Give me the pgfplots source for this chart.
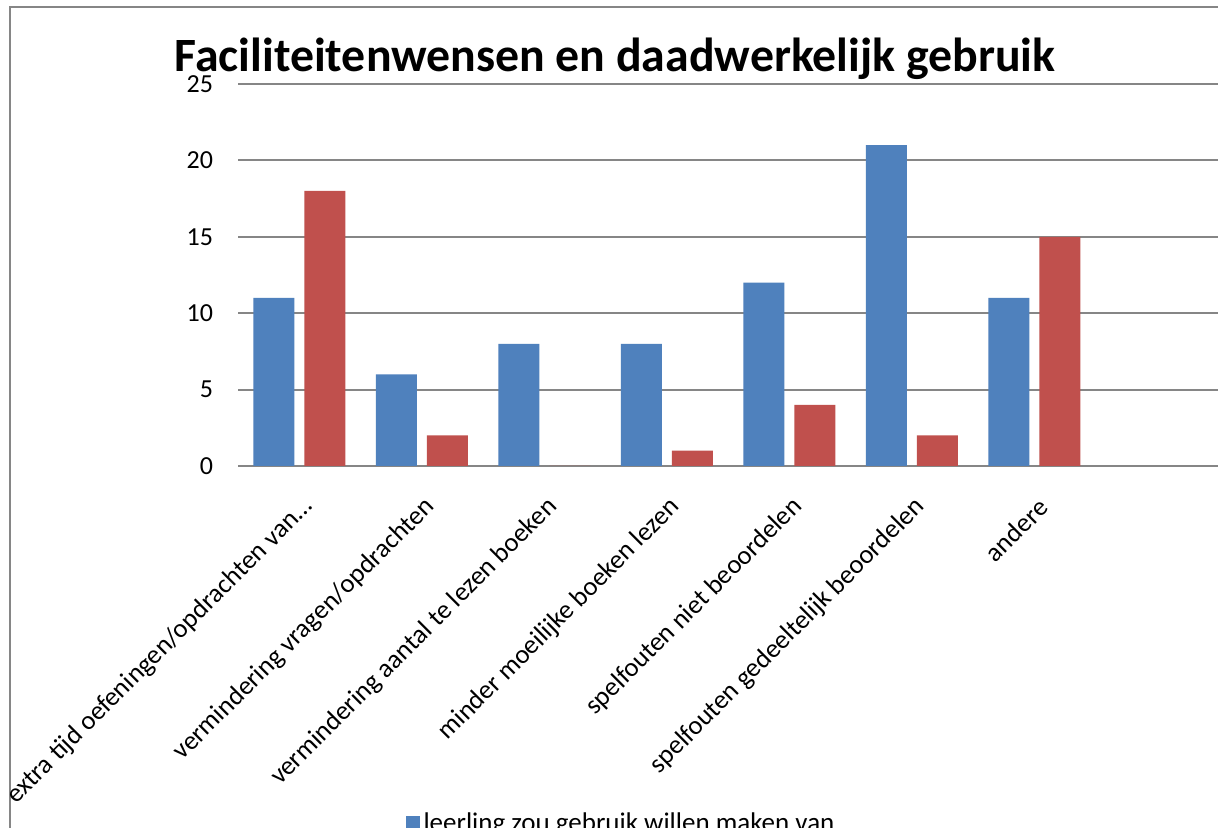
\documentclass[border=0pt]{standalone}
\usepackage{fontspec}
\setmainfont{Carlito}
\usepackage{pgfplots}
\pgfplotsset{compat=1.18}
\definecolor{xlblue}{HTML}{4F81BD}
\definecolor{xlred}{HTML}{C0504D}
\definecolor{xlgrid}{HTML}{868686}
\begin{document}
\begin{tikzpicture}
\useasboundingbox (0,0) rectangle (609pt,414pt);
\clip (0,0) rectangle (609pt,414pt);
\fill[white] (0,0) rectangle (609pt,414pt);
\draw[xlgrid, line width=1pt] (5pt,-20pt) -- (5pt,410.5pt) -- (640pt,410.5pt);
\node[anchor=base, font=\fontsize{23.9}{28}\selectfont\bfseries] at (307.5pt,378pt) {Faciliteitenwensen en daadwerkelijk gebruik};
\begin{axis}[
  at={(119pt,181pt)}, anchor=south west,
  scale only axis, width=490pt, height=191pt,
  xmin=-0.5, xmax=7.5, ymin=0, ymax=25,
  xtick={0,1,2,3,4,5,6},
  xticklabels={extra tijd oefeningen/opdrachten van\ldots,vermindering vragen/opdrachten,vermindering aantal te lezen boeken,minder moeilijke boeken lezen,spelfouten niet beoordelen,spelfouten gedeeltelijk beoordelen,andere},
  ytick={0,5,10,15,20,25},
  /pgf/number format/assume math mode=true,
  y tick label style={font=\fontsize{13}{15}\selectfont, xshift=-9pt},
  x tick label style={font=\fontsize{13.3}{16}\selectfont, xshift=7pt, yshift=-16pt, rotate=45, anchor=east},
  tick style={draw=none},
  ymajorgrids, grid style={xlgrid, line width=1pt},
  axis x line*=bottom, axis y line*=left,
  x axis line style={xlgrid, line width=1.4pt, -},
  y axis line style={draw=none},
  legend style={draw=none, fill=none, at={(0.3918,-0.885)}, anchor=north, font=\fontsize{13.5}{16}\selectfont},
  legend image code/.code={\fill[#1] (0pt,-3.5pt) rectangle (7pt,3.5pt);},
]
\addplot[ybar, bar width=20.5pt, bar shift=-12.75pt, fill=xlblue, draw=none] coordinates {(0,11) (1,6) (2,8) (3,8) (4,12) (5,21) (6,11)};
\addlegendentry{leerling zou gebruik willen maken van}
\addplot[ybar, bar width=20.5pt, bar shift=12.75pt, fill=xlred, draw=none] coordinates {(0,18) (1,2) (2,0) (3,1) (4,4) (5,2) (6,15)};
\end{axis}
\end{tikzpicture}
\end{document}
